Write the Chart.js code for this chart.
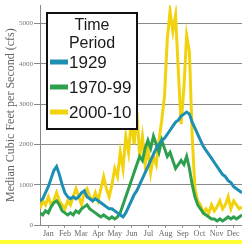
<!DOCTYPE html>
<html>
<head>
<meta charset="utf-8">
<script src="https://cdn.jsdelivr.net/npm/chart.js@4"></script>
<style>
  body { margin: 0; background: #fff; }
  #wrap { position: relative; width: 242px; height: 248px; overflow: hidden; }
  #chart { position: absolute; left: 0; top: 0; }
  #band { position: absolute; left: 0; top: 240px; width: 242px; height: 4px; background: #ffff33; }
</style>
</head>
<body>
<div id="wrap">
  <canvas id="chart" width="242" height="238"></canvas>
  <div id="band"></div>
</div>
<script>
// Day of year for each reading (every 5 days).
const days = [0,5,10,15,20,25,30,35,40,45,50,55,60,65,70,75,80,85,90,95,100,105,110,115,120,125,130,135,140,145,150,155,160,165,170,175,180,185,190,195,200,205,210,215,220,225,230,235,240,245,250,255,260,265,270,275,280,285,290,295,300,305,310,315,320,325,330,335,340,345,350,355,360,365];

// Median flow (cfs).
const flow1929 = [600,650,800,950,1150,1350,1450,1250,1000,800,700,650,700,650,700,800,850,700,650,600,650,600,550,500,450,400,400,350,300,250,200,300,450,600,750,850,1000,1150,1300,1450,1600,1750,1900,2000,2100,2150,2250,2350,2450,2550,2600,2700,2750,2800,2750,2550,2400,2250,2100,1950,1850,1750,1650,1550,1450,1350,1250,1200,1100,1050,950,900,850,800];
const flow1970 = [300,250,350,300,450,550,600,500,350,300,250,300,250,350,300,400,450,500,400,350,300,250,200,250,200,150,200,150,200,300,500,700,900,1100,1300,1500,1700,1600,1900,2100,1900,2200,2000,1800,2100,1900,1700,1800,1600,1400,1500,1600,1500,1700,1400,1000,700,500,400,300,250,200,150,150,100,150,100,150,200,150,200,150,200,250];
const flow2000 = [400,600,500,700,500,600,800,600,500,400,600,500,700,900,700,500,800,900,700,600,800,600,900,1200,900,700,1000,1400,1200,1800,1400,2200,1800,2600,2000,2800,1700,2200,1500,1900,1300,1700,1500,2100,2600,3200,4600,5300,4800,5200,3800,2500,3400,4700,4300,2200,900,600,500,300,400,300,500,350,450,600,400,500,700,400,600,500,400,450];

const periods = ["1929", "1970-99", "2000-10"];
const colors = ["#1d8fb2", "#2e9f4c", "#f2d20c"];

const months = ["Jan","Feb","Mar","Apr","May","Jun","Jul","Aug","Sep","Oct","Nov","Dec"];
const monthMid = [15,45,74,105,135,166,196,227,258,288,319,349];
const yTicks = [0,1000,2000,3000,4000,5000];

const toPoints = vals => vals.map((v, i) => ({ x: days[i], y: v }));

// Boxed legend drawn inside the plot, like the original.
const legendBox = {
  id: "legendBox",
  afterDatasetsDraw(chart) {
    const c = chart.ctx;
    c.save();
    c.fillStyle = "#fff";
    c.fillRect(47, 13, 90, 116);
    c.strokeStyle = "#111";
    c.lineWidth = 2;
    c.strokeRect(47, 13, 90, 116);
    c.fillStyle = "#1a1a1a";
    c.font = "16px 'Liberation Sans'";
    c.textAlign = "center";
    c.textBaseline = "alphabetic";
    c.fillText("Time", 92, 30);
    c.fillText("Period", 92, 48);
    c.textAlign = "left";
    c.textBaseline = "middle";
    c.font = "17px 'Liberation Sans'";
    chart.data.datasets.forEach((ds, i) => {
      const y = 62 + i * 25;
      c.strokeStyle = ds.borderColor;
      c.lineWidth = 5;
      c.beginPath();
      c.moveTo(50, y);
      c.lineTo(68, y);
      c.stroke();
      c.fillStyle = "#1a1a1a";
      c.fillText(ds.label, 69, y + 1);
    });
    c.restore();
  }
};

new Chart(document.getElementById("chart"), {
  type: "line",
  data: {
    datasets: [
      { label: periods[0], data: toPoints(flow1929), borderColor: colors[0] },
      { label: periods[1], data: toPoints(flow1970), borderColor: colors[1] },
      { label: periods[2], data: toPoints(flow2000), borderColor: colors[2] }
    ]
  },
  options: {
    responsive: false,
    animation: false,
    layout: { padding: 0 },
    elements: {
      point: { radius: 0 },
      line: { borderWidth: 3, tension: 0 }
    },
    plugins: {
      legend: { display: false },
      tooltip: { enabled: false }
    },
    scales: {
      x: {
        type: "linear",
        min: 0,
        max: 365,
        afterBuildTicks: s => { s.ticks = monthMid.map(v => ({ value: v })); },
        afterFit: s => { s.height = 13; },
        ticks: {
          autoSkip: false,
          maxRotation: 0,
          padding: 1,
          color: "#666",
          font: { family: "'Liberation Serif'", size: 8 },
          callback: (v, i) => months[i]
        },
        grid: { drawOnChartArea: false, tickLength: 3, color: "#999" },
        border: { color: "#888" }
      },
      y: {
        min: 0,
        max: 5450,
        afterBuildTicks: s => { s.ticks = yTicks.map(v => ({ value: v })); },
        afterFit: s => { s.width = 40; },
        ticks: {
          padding: 1,
          color: "#777",
          font: { family: "'Liberation Serif'", size: 7 },
          callback: v => String(v)
        },
        grid: { color: "#8a8a8a", tickLength: 6 },
        border: { color: "#888" },
        title: {
          display: true,
          text: "Median Cubic Feet per Second (cfs)",
          color: "#666",
          padding: { top: 4, bottom: 0 },
          font: { family: "'Liberation Serif'", size: 12 }
        }
      }
    }
  },
  plugins: [legendBox]
});
</script>
</body>
</html>
